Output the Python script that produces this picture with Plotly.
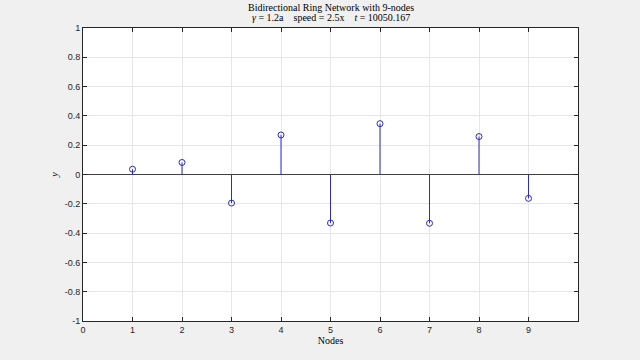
import plotly.graph_objects as go

nodes = [1, 2, 3, 4, 5, 6, 7, 8, 9]
values = [0.036, 0.082, -0.195, 0.270, -0.331, 0.347, -0.333, 0.259, -0.163]
x_ticks = [0, 1, 2, 3, 4, 5, 6, 7, 8, 9]
y_ticks = [-1, -0.8, -0.6, -0.4, -0.2, 0, 0.2, 0.4, 0.6, 0.8, 1]
y_ticklabels = ["-1", "-0.8", "-0.6", "-0.4", "-0.2", "0", "0.2", "0.4", "0.6", "0.8", "1"]
title_lines = ["Bidirectional Ring Network with 9-nodes",
               "<i>γ</i> = 1.2a &nbsp;&nbsp; speed = 2.5x &nbsp;&nbsp; <i>t</i> = 10050.167"]

stem_x, stem_y = [], []
for n, v in zip(nodes, values):
    stem_x += [n, n, None]
    stem_y += [0, v, None]

blue = "#2a2ad8"
fig = go.Figure()
fig.add_trace(go.Scatter(x=stem_x, y=stem_y, mode="lines",
                         line=dict(color=blue, width=1), hoverinfo="skip", showlegend=False))
fig.add_trace(go.Scatter(x=nodes, y=values, mode="markers",
                         marker=dict(symbol="circle-open", size=6, color=blue, line=dict(width=1, color=blue)),
                         showlegend=False))

axis_common = dict(showline=True, linecolor="#262626", linewidth=1, mirror="ticks",
                   ticks="inside", ticklen=4, tickcolor="#262626",
                   showgrid=True, gridcolor="#e6e6e6", gridwidth=1,
                   tickfont=dict(family="Liberation Sans, Arial", size=9, color="#262626"))

plot_h = 360 - 28 - 39
serif = "Liberation Serif, DejaVu Serif"
fig.update_layout(
    width=640, height=360,
    paper_bgcolor="#f0f0f0", plot_bgcolor="#ffffff",
    margin=dict(l=83, r=62, t=28, b=39),
    xaxis=dict(range=[0, 10], tickvals=x_ticks, zeroline=False,
               title=dict(text="Nodes", standoff=2, font=dict(family=serif, size=10, color="#000000")),
               **axis_common),
    yaxis=dict(range=[-1, 1], tickvals=y_ticks, ticktext=y_ticklabels,
               zeroline=True, zerolinecolor="#404040", zerolinewidth=1,
               title=dict(text="<i>y</i>", standoff=4, font=dict(family=serif, size=10, color="#000000")),
               **axis_common),
)
for i, (txt, ypx) in enumerate(zip(title_lines, [7, 18])):
    fig.add_annotation(text=txt, xref="paper", yref="paper", x=0.5, y=1 + (28 - ypx) / plot_h,
                       xanchor="center", yanchor="middle", showarrow=False,
                       font=dict(family=serif, size=10, color="#000000"))
fig.write_html("out.html")
